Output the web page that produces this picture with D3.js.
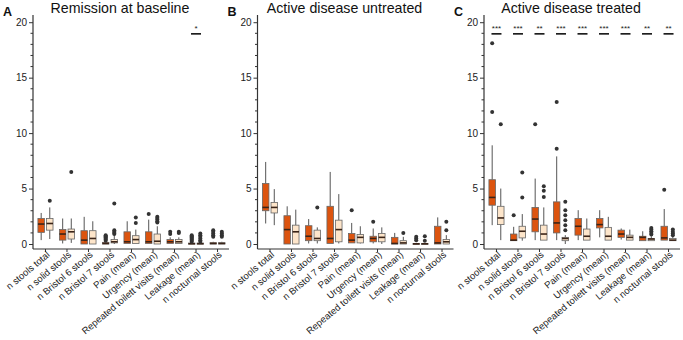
<!DOCTYPE html>
<html>
<head>
<meta charset="utf-8">
<script src="https://cdn.jsdelivr.net/npm/d3@7"></script>
<style>
  body { margin: 0; background: #fff; }
  svg { font-family: "Liberation Sans", Arial, sans-serif; }
</style>
</head>
<body>
<div id="chart"></div>
<script>
// categories shared by the three panels
var categories = ["n stools total", "n solid stools", "n Bristol 6 stools", "n Bristol 7 stools",
  "Pain (mean)", "Urgency (mean)", "Repeated toilett visits (mean)", "Leakage (mean)", "n nocturnal stools"];

var panelTitles = ["Remission at baseline", "Active disease untreated", "Active disease treated"];
var panelLetters = ["A", "B", "C"];

// box stats: [low whisker, q1, median, q3, high whisker]
var remissionDark = [[0.35, 1.05, 1.8, 2.3, 2.8], [0.05, 0.35, 0.9, 1.3, 2.3], [0, 0, 0.35, 1.2, 2.45],
  [0, 0, 0.05, 0.15, 0.2], [0.05, 0.05, 0.2, 1.1, 2.05], [0.05, 0.05, 0.2, 1.1, 2.2],
  [0.05, 0.05, 0.2, 0.4, 0.6], [0, 0, 0.03, 0.08, 0.1], [0, 0, 0.05, 0.12, 0.2]];
var remissionLight = [[0.45, 1.25, 1.85, 2.3, 3.3], [0.1, 0.45, 1.1, 1.35, 2.3], [0, 0, 0.5, 1.2, 2.05],
  [0, 0.1, 0.2, 0.4, 0.8], [0.05, 0.05, 0.4, 0.75, 1.3], [0, 0, 0.25, 0.9, 1.6],
  [0.05, 0.05, 0.2, 0.4, 0.6], [0, 0, 0.03, 0.08, 0.15], [0, 0, 0.05, 0.12, 0.2]];
var remissionDarkOut = [[], [], [], [0.3, 0.4, 0.5, 0.6, 0.7, 0.8], [], [2.7], [0.9, 1.1],
  [0.2, 0.3, 0.4, 0.5, 0.6, 0.7, 0.8], [0.65, 0.8, 0.95, 1.1, 1.25]];
var remissionLightOut = [[3.9], [6.5], [], [0.9, 1.0, 1.1, 1.25, 3.65], [1.9, 2.4], [1.95, 2.05, 2.2, 2.35, 2.45],
  [1.0, 1.1], [0.2, 0.35, 0.5, 0.65, 0.8, 0.95], [0.65, 0.8, 0.95, 1.1]];

var untreatedDark = [[1.85, 3.0, 3.3, 5.45, 7.4], [0, 0, 1.3, 2.55, 3.4], [0.05, 0.3, 0.7, 1.65, 2.25],
  [0.05, 0.05, 0.5, 3.4, 6.5], [0.1, 0.1, 0.35, 0.95, 1.9], [0.05, 0.2, 0.5, 0.7, 1.4],
  [0, 0, 0.05, 0.6, 1.0], [0, 0, 0.02, 0.05, 0.1], [0, 0, 0.1, 1.6, 2.4]];
var untreatedLight = [[1.7, 2.8, 3.3, 3.75, 4.95], [0, 0, 1.1, 1.7, 3.1], [0.05, 0.3, 0.5, 1.25, 1.5],
  [0.05, 0.2, 1.3, 2.15, 4.5], [0.05, 0.1, 0.6, 0.85, 1.6], [0, 0.2, 0.6, 0.95, 1.5],
  [0, 0, 0.1, 0.3, 0.65], [0, 0, 0.02, 0.05, 0.1], [0, 0, 0.2, 0.4, 0.8]];
var untreatedDarkOut = [[], [], [], [], [3.05], [2.0], [], [0.35, 0.5, 0.65], []];
var untreatedLightOut = [[], [], [3.3], [], [], [], [1.0], [0.3, 0.7], [1.25, 2.0]];

var treatedDark = [[1.7, 3.5, 4.2, 5.8, 8.9], [0.3, 0.3, 0.35, 0.9, 1.55], [0.35, 1.1, 2.25, 3.3, 5.9],
  [0.35, 1.0, 1.9, 3.8, 7.9], [0.35, 0.8, 1.6, 2.3, 3.05], [0.6, 1.45, 1.75, 2.3, 3.05],
  [0.4, 0.6, 0.9, 1.25, 1.4], [0.3, 0.3, 0.6, 0.7, 1.15], [0.35, 0.35, 0.55, 1.6, 3.15]];
var treatedLight = [[0.35, 1.75, 2.35, 3.4, 5.0], [0.3, 0.55, 1.15, 1.6, 2.7], [0.35, 0.35, 0.9, 1.7, 3.3],
  [0, 0.3, 0.5, 0.6, 0.8], [0.35, 0.35, 0.7, 1.35, 2.3], [0.35, 0.35, 0.7, 1.5, 2.45],
  [0.35, 0.35, 0.6, 0.8, 1.3], [0.3, 0.3, 0.45, 0.5, 0.7], [0.3, 0.3, 0.35, 0.5, 0.7]];
var treatedDarkOut = [[11.9, 18.1], [2.6], [10.8], [8.6, 12.8], [], [], [], [], [4.9]];
var treatedLightOut = [[10.8], [4.2, 6.45], [4.25, 4.8, 5.2], [1.25, 1.7, 2.15, 2.6, 3.05, 3.8], [], [],
  [], [0.85, 1.0, 1.15, 1.3, 1.45], [0.8, 0.95, 1.1, 1.3]];

// significance marks per category
var remissionSig = ["", "", "", "", "", "", "", "*", ""];
var untreatedSig = ["", "", "", "", "", "", "", "", ""];
var treatedSig = ["***", "***", "**", "***", "***", "***", "***", "**", "**"];

var yTicks = [0, 5, 10, 15, 20];

(function() {

var panels = [
  {dark: remissionDark, light: remissionLight, darkOut: remissionDarkOut, lightOut: remissionLightOut, sig: remissionSig},
  {dark: untreatedDark, light: untreatedLight, darkOut: untreatedDarkOut, lightOut: untreatedLightOut, sig: untreatedSig},
  {dark: treatedDark, light: treatedLight, darkOut: treatedDarkOut, lightOut: treatedLightOut, sig: treatedSig}
];

var W = 683, H = 340,
    axisX = [33, 257.5, 484],
    plotW = 196,
    yTop = 15, yBottom = 249,
    boxW = 6.5, off = 4.3,
    darkFill = "#dc540f", lightFill = "#fde5ca";

var svg = d3.select("#chart").append("svg").attr("width", W).attr("height", H);

var y = d3.scaleLinear().domain([-0.45, 20.65]).range([yBottom, yTop]);

panels.forEach(function(p, i) {
  var x0 = axisX[i];
  var x = d3.scalePoint().domain(categories).range([x0, x0 + 197]).padding(0.58);
  var g = svg.append("g");

  // titles
  g.append("text").attr("x", x0 + 87).attr("y", 13).attr("text-anchor", "middle")
    .attr("font-size", 14.2).attr("fill", "#111").text(panelTitles[i]);
  g.append("text").attr("x", x0 - 30).attr("y", 16).attr("font-size", 12.5)
    .attr("font-weight", "bold").attr("fill", "#111").text(panelLetters[i]);

  // y axis: major ticks labelled, minor every unit
  var yAxis = d3.axisLeft(y).tickValues(yTicks).tickSize(4).tickPadding(2);
  var ya = g.append("g").attr("transform", "translate(" + x0 + ",0)").call(yAxis);
  ya.select(".domain").remove();
  ya.selectAll("text").attr("font-size", 10).attr("fill", "#222").attr("font-family", null);
  ya.selectAll("line").attr("stroke", "#333");
  g.selectAll(".minor").data(d3.range(0, 21).filter(function(v) { return v % 5; }))
    .enter().append("line")
    .attr("x1", x0 - 2.5).attr("x2", x0)
    .attr("y1", function(d) { return y(d); }).attr("y2", function(d) { return y(d); })
    .attr("stroke", "#333");
  g.append("line").attr("x1", x0).attr("x2", x0).attr("y1", yTop).attr("y2", yBottom)
    .attr("stroke", "#333").attr("stroke-width", 1.2);

  // x axis
  g.append("line").attr("x1", x0).attr("x2", x0 + plotW).attr("y1", yBottom).attr("y2", yBottom)
    .attr("stroke", "#333").attr("stroke-width", 1.2);
  var xt = g.selectAll(".xt").data(categories).enter().append("g")
    .attr("transform", function(d) { return "translate(" + x(d) + "," + yBottom + ")"; });
  xt.append("line").attr("y2", 3).attr("stroke", "#333");
  xt.append("text").attr("transform", "translate(1,2) rotate(-40)")
    .attr("text-anchor", "end").attr("dy", "0.65em")
    .attr("font-size", 9.5).attr("fill", "#222").text(function(d) { return d; });

  // boxes
  function drawBoxes(stats, outs, fill, shift) {
    var bg = g.selectAll(null).data(stats).enter().append("g")
      .attr("transform", function(d, j) { return "translate(" + (x(categories[j]) + shift) + ",0)"; });
    bg.append("line").attr("y1", function(d) { return y(d[0]); }).attr("y2", function(d) { return y(d[1]); })
      .attr("stroke", "#555").attr("stroke-width", 1);
    bg.append("line").attr("y1", function(d) { return y(d[3]); }).attr("y2", function(d) { return y(d[4]); })
      .attr("stroke", "#555").attr("stroke-width", 1);
    bg.append("rect").attr("x", -boxW / 2).attr("width", boxW)
      .attr("y", function(d) { return y(d[3]); })
      .attr("height", function(d) { return Math.max(1, y(d[1]) - y(d[3])); })
      .attr("fill", fill).attr("stroke", "#666").attr("stroke-width", 0.8);
    bg.append("line").attr("x1", -boxW / 2).attr("x2", boxW / 2)
      .attr("y1", function(d) { return y(d[2]); }).attr("y2", function(d) { return y(d[2]); })
      .attr("stroke", "#3a2418").attr("stroke-width", 1.6);
    bg.selectAll("circle").data(function(d, j) { return outs[j]; }).enter().append("circle")
      .attr("cx", 0).attr("cy", function(v) { return y(v); }).attr("r", 2)
      .attr("fill", "#333");
  }
  drawBoxes(p.dark, p.darkOut, darkFill, -off);
  drawBoxes(p.light, p.lightOut, lightFill, off);

  // significance bars
  var sg = g.selectAll(".sig").data(categories.filter(function(c, j) { return p.sig[j]; }))
    .enter().append("g")
    .attr("transform", function(d) { return "translate(" + x(d) + ",0)"; });
  sg.append("line").attr("x1", -5).attr("x2", 5).attr("y1", y(18.95)).attr("y2", y(18.95))
    .attr("stroke", "#111").attr("stroke-width", 1.6);
  sg.append("text").attr("y", y(18.95) - 3).attr("text-anchor", "middle")
    .attr("font-size", 8).attr("fill", "#222")
    .text(function(d) { return p.sig[categories.indexOf(d)]; });
});

})();
</script>
</body>
</html>
